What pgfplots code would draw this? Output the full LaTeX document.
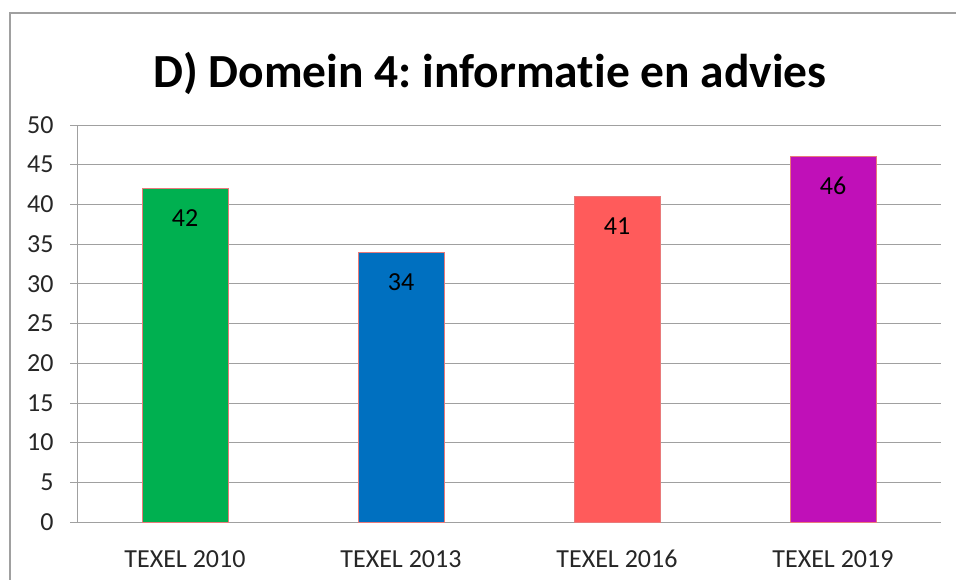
\documentclass[border=0pt]{standalone}
\usepackage{fontspec}
\setmainfont{Carlito}[Ligatures=NoCommon]
\usepackage{pgfplots}
\pgfplotsset{compat=1.18}
\definecolor{cgreen}{HTML}{00B050}
\definecolor{cblue}{HTML}{0070C0}
\definecolor{csalmon}{HTML}{FF5B5B}
\definecolor{cmagenta}{HTML}{C010B8}
\definecolor{cedge}{HTML}{E87A7A}
\definecolor{cgrid}{HTML}{A0A0A0}
\begin{document}
\frenchspacing
\begin{tikzpicture}[x=1pt,y=1pt]
  \path[use as bounding box] (0,0) rectangle (956,579);
  \draw[cgrid,line width=1.2pt] (10,-5) -- (10,566) -- (960,566);
  \node[font=\bfseries\fontsize{47.5}{52}\selectfont, anchor=base] at (490,491) {D) Domein 4: informatie en advies};
  \begin{axis}[
    at={(77pt,57pt)}, anchor=origin,
    scale only axis,
    width=864pt, height=397pt,
    xmin=0, xmax=4, ymin=0, ymax=50,
    axis x line=bottom, axis y line=left,
    axis line style={-, cgrid, line width=0.8pt},
    ytick={0,5,...,50},
    ymajorgrids=true,
    grid style={cgrid, line width=0.8pt},
    tick align=outside,
    major tick length=7pt,
    tick style={cgrid, line width=0.8pt},
    xtick={0.5,1.5,2.5,3.5},
    xticklabels={TEXEL 2010,TEXEL 2013,TEXEL 2016,TEXEL 2019},
    x tick style={draw=none},
    extra x ticks={0,1,2,3,4},
    extra x tick labels={},
    extra x tick style={tick style={cgrid, line width=0.8pt}, grid=none},
    x tick label style={font=\fontsize{26}{30}\selectfont, text height=17pt, text depth=0pt, yshift=-18pt, text=black!85},
    y tick label style={font=\fontsize{26}{30}\selectfont, xshift=-13pt, text=black!85},
    /pgf/number format/assume math mode=true,
    ybar, bar width=0.4, bar shift=0pt,
    nodes near coords,
    every node near coord/.append style={font=\fontsize{26}{30}\selectfont, anchor=north, text height=17pt, text depth=0pt, yshift=-17.5pt, text=black},
  ]
    \addplot[fill=cgreen, draw=cedge, line width=0.6pt] coordinates {(0.5,42)};
    \addplot[fill=cblue, draw=cedge, line width=0.6pt] coordinates {(1.5,34)};
    \addplot[fill=csalmon, draw=cedge, line width=0.6pt] coordinates {(2.5,41)};
    \addplot[fill=cmagenta, draw=cedge, line width=0.6pt] coordinates {(3.5,46)};
  \end{axis}
\end{tikzpicture}
\end{document}
